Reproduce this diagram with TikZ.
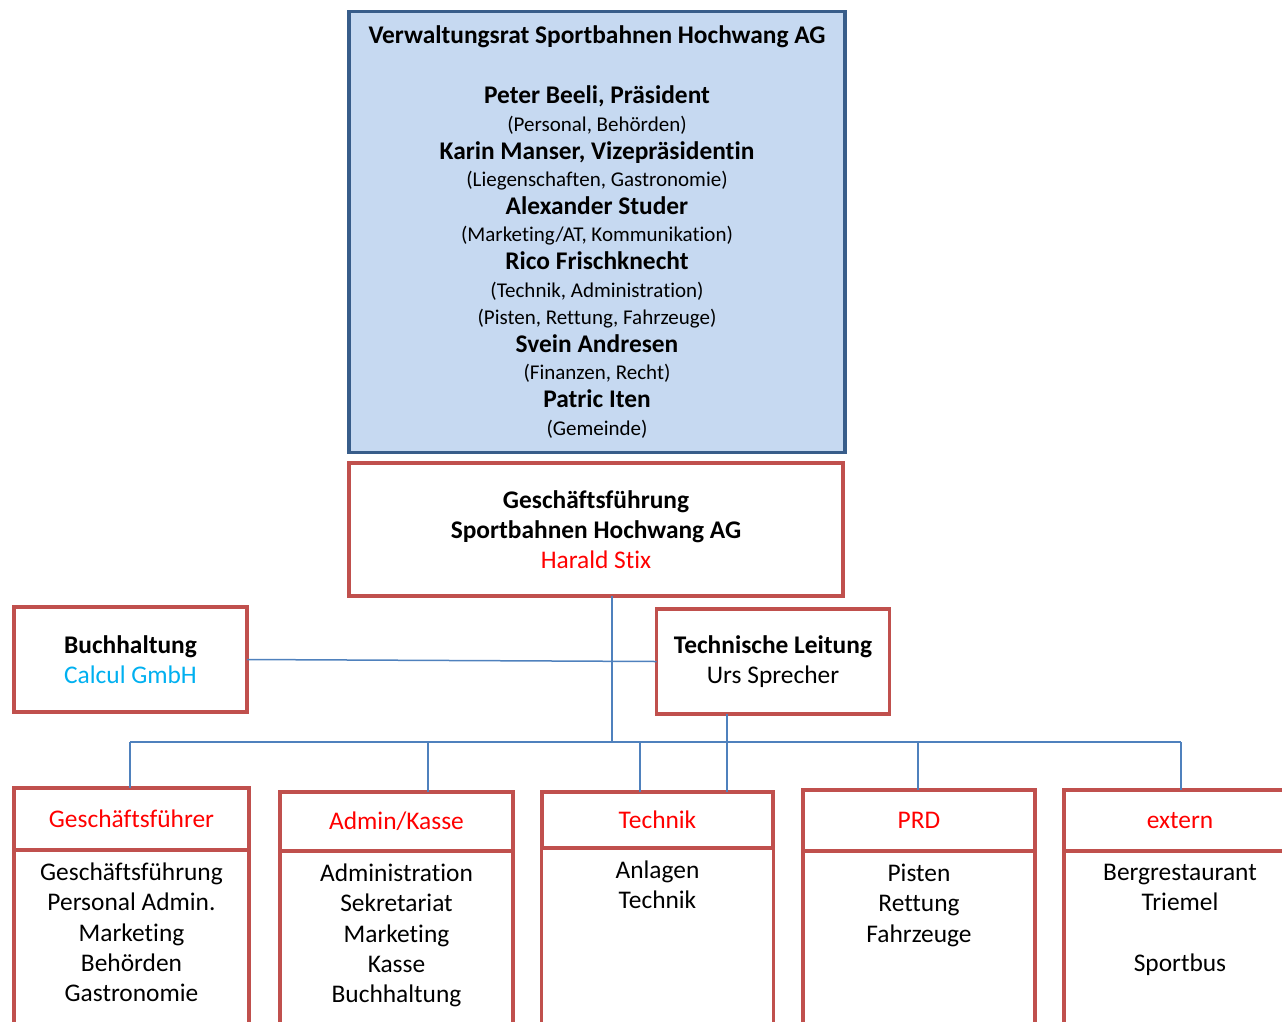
\documentclass[tikz,border=0pt]{standalone}
\usepackage{fontspec}
\setmainfont{Carlito}[Ligatures=NoCommon]
\usetikzlibrary{positioning}
\definecolor{boardfill}{HTML}{C6D9F1}
\definecolor{boardline}{HTML}{385D8A}
\definecolor{boxline}{HTML}{C0504D}
\definecolor{wire}{HTML}{4F81BD}
\definecolor{headred}{HTML}{FF0000}
\definecolor{extblue}{HTML}{00B0F0}
\newcommand{\paren}[1]{{\fontsize{21}{27.6}\selectfont #1}}
\newcommand{\colbody}[1]{\parbox[t][190pt][t]{225pt}{\centering #1}}
\begin{document}
\begin{tikzpicture}[x=1pt,y=-1pt,
    unit/.style={draw=boxline,line width=3.5pt,fill=white,align=center,outer sep=0pt},
    board/.style={unit,draw=boardline,fill=boardfill,minimum width=496pt,minimum height=441pt,
      font=\fontsize{25.4}{27.6}\selectfont},
    lead/.style={unit,minimum width=494pt,minimum height=133pt,font=\fontsize{25.4}{30}\selectfont},
    staff/.style={unit,minimum width=233pt,minimum height=105pt,font=\fontsize{25.4}{30}\selectfont},
    dept/.style={unit,text=headred,font=\fontsize{25.4}{30}\selectfont},
    tasks/.style={unit,anchor=north,inner ysep=13pt,font=\fontsize{25.4}{30.3}\selectfont},
    link/.style={draw=wire,line width=1.5pt}]
  \useasboundingbox (0,0) rectangle (1282,1021);
  \clip (0,0) rectangle (1282,1021);

  \node[board] (vr) at (597,232) {\textbf{Verwaltungsrat Sportbahnen Hochwang AG}\\[32.4pt]
    \textbf{Peter Beeli, Präsident}\\
    \paren{(Personal, Behörden)}\\
    \textbf{Karin Manser, Vizepräsidentin}\\
    \paren{(Liegenschaften, Gastronomie)}\\
    \textbf{Alexander Studer}\\
    \paren{(Marketing/AT, Kommunikation)}\\
    \textbf{Rico Frischknecht}\\
    \paren{(Technik, Administration)}\\
    \paren{(Pisten, Rettung, Fahrzeuge)}\\
    \textbf{Svein Andresen}\\
    \paren{(Finanzen, Recht)}\\
    \textbf{Patric Iten}\\
    \paren{(Gemeinde)}};
  \node[lead] (gf) at (596,529.5) {\textbf{Geschäftsführung}\\\textbf{Sportbahnen Hochwang AG}\\
    \textcolor{headred}{Harald Stix}};
  \node[staff] (bh) at (130.5,659.5) {\textbf{Buchhaltung}\\\textcolor{extblue}{Calcul GmbH}};
  \node[staff] (tl) at (773,661.5) {\textbf{Technische Leitung}\\Urs Sprecher};

  % Abteilungen
  \node[dept,minimum width=235pt,minimum height=62pt] (gfr) at (131.5,819) {Geschäftsführer};
  \node[dept,minimum width=233pt,minimum height=59pt] (adm) at (396.5,821.5) {Admin/Kasse};
  \node[dept,minimum width=231pt,minimum height=56pt] (tec) at (657.5,820) {Technik};
  \node[dept,minimum width=232pt,minimum height=61pt] (prd) at (919,820.5) {PRD};
  \node[dept,minimum width=232pt,minimum height=61pt] (ext) at (1180,820.5) {extern};

  \node[tasks,minimum width=235pt] (gfr-t) at (gfr.south)
    {\colbody{Geschäftsführung\\Personal Admin.\\Marketing\\Behörden\\Gastronomie}};
  \node[tasks,minimum width=233pt] (adm-t) at (adm.south)
    {\colbody{Administration\\Sekretariat\\Marketing\\Kasse\\Buchhaltung}};
  \node[tasks,minimum width=231pt] (tec-t) at (tec.south) {\colbody{Anlagen\\Technik}};
  \node[tasks,minimum width=232pt] (prd-t) at (prd.south) {\colbody{Pisten\\Rettung\\Fahrzeuge}};
  \node[tasks,minimum width=232pt] (ext-t) at (ext.south) {\colbody{Bergrestaurant\\Triemel\\[30.3pt]Sportbus}};

  \coordinate (bus) at (612,742);
  \coordinate (d1) at (130,742);
  \coordinate (d2) at (428,742);
  \coordinate (d3) at (640,742);
  \coordinate (d4) at (727,742);
  \coordinate (d5) at (918,742);
  \coordinate (d6) at (1181,742);
  \begin{scope}[link]
    \draw (gf.south -| bus) to (bus);
    \draw (bh.east) to (tl.west);
    \draw (d1) to (d6);
    \draw (d1) to (d1 |- gfr.north);
    \draw (d2) to (d2 |- adm.north);
    \draw (d3) to (d3 |- tec.north);
    \draw (tl.south -| d4) to (d4 |- tec.north);
    \draw (d5) to (d5 |- prd.north);
    \draw (d6) to (d6 |- ext.north);
  \end{scope}
\end{tikzpicture}
\end{document}
